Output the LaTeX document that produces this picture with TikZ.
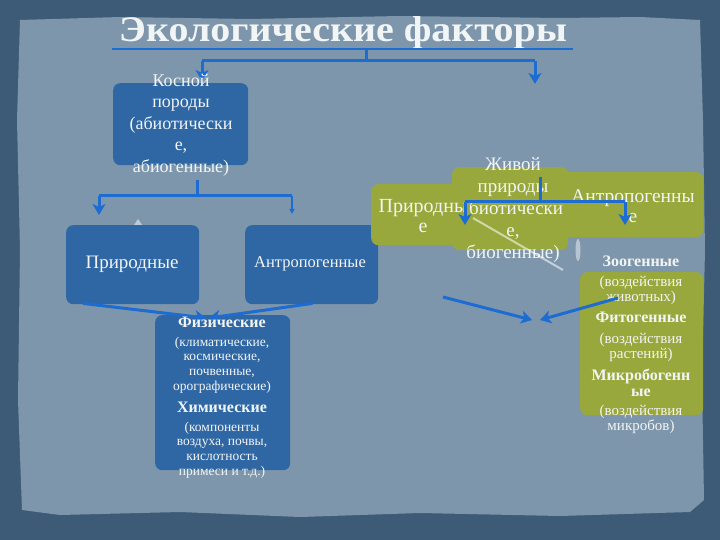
\documentclass[tikz,border=0pt]{standalone}
\usepackage{fontspec}
\setmainfont{Liberation Serif}
\usetikzlibrary{arrows.meta}
\definecolor{framec}{HTML}{3D5B77}
\definecolor{panelc}{HTML}{7E96AC}
\definecolor{boxblue}{HTML}{2F67A5}
\definecolor{boxgreen}{HTML}{99A83C}
\definecolor{arrblue}{HTML}{1C6CD2}
\definecolor{txtc}{HTML}{F2F5F5}
\tikzset{
  bbox/.style={fill=boxblue, rounded corners=7pt, draw=none, inner sep=0pt, anchor=north west},
  gbox/.style={fill=boxgreen, rounded corners=7pt, draw=none, inner sep=0pt, anchor=north west},
  conn/.style={draw=arrblue, line width=3pt},
  arrw/.style={conn, -{Stealth[length=11pt,width=13pt,inset=3pt]}},
  thinarrw/.style={draw=arrblue, line width=1.2pt, -{Triangle[length=5pt,width=5pt]}},
  lbl/.style={text=txtc, align=center, inner sep=0pt},
  faint/.style={draw=white, draw opacity=0.55, line width=2pt},
}
\begin{document}
\begin{tikzpicture}[x=1pt,y=-1pt]
\useasboundingbox (0,0) rectangle (720,540);
\fill[framec] (0,0) rectangle (720,540);
\fill[panelc] (20,20) -- (120,17) -- (250,19) -- (400,16) -- (560,18) -- (640,17) -- (700,20)
  -- (703,120) -- (705,250) -- (702,380) -- (704,500)
  -- (690,512) -- (560,516) -- (420,513) -- (300,517) -- (180,512) -- (60,515) -- (22,510)
  -- (18,400) -- (20,250) -- (17,120) -- cycle;

% title
\node[lbl, font=\fontsize{36}{40}\selectfont\bfseries, anchor=base, text=txtc] (title) at (343,42) {\scalebox{1.11}[1]{Экологические факторы}};
\coordinate (ul1) at (112,49); \coordinate (ul2) at (573,49);
\coordinate (t0) at (366,49); \coordinate (t1) at (366,61);
\coordinate (tl) at (202,61); \coordinate (tr) at (535,61);
\coordinate (tla) at (202,81); \coordinate (tra) at (535,84);
\draw[conn, line width=2.5pt] (ul1) -- (ul2);
\draw[conn] (t0) -- (t1);
\draw[conn] (tl) -- (tr);
\draw[arrw] (tl) -- (tla);
\draw[arrw] (tr) -- (tra);

% left branch
\node[bbox, minimum width=135pt, minimum height=82pt] (kbox) at (113,83) {};
\node[lbl, font=\fontsize{18}{21.5}\selectfont] (ktxt) at (181,125) {Косной\\породы\\(абиотически\\е,\\абиогенные)};
\coordinate (k0) at (197,180); \coordinate (k1) at (197,196);
\coordinate (kl) at (99,196); \coordinate (kr) at (292,196);
\coordinate (kla) at (99,215); \coordinate (kra) at (292,214);
\draw[conn] (k0) -- (k1);
\draw[conn] (kl) -- (kr);
\draw[arrw] (kl) -- (kla);
\draw[thinarrw] (kr) -- (kra);
\fill[white, opacity=0.5] (134,225) -- (138,219) -- (142,225) -- cycle;

\node[bbox, minimum width=133pt, minimum height=79pt] (pbox) at (66,225) {};
\node[lbl, font=\fontsize{19}{22}\selectfont] (ptxt) at (132,264) {Природные};
\node[bbox, minimum width=133pt, minimum height=79pt] (abox) at (245,225) {};
\node[lbl, font=\fontsize{16.5}{20}\selectfont] (atxt) at (310,264) {Антропогенные};

\node[bbox, minimum width=135pt, minimum height=155pt] (fbox) at (155,315) {};
\draw[arrw] ([xshift=17pt,yshift=1pt]pbox.south west) -- (206,318);
\draw[arrw] ([xshift=-66pt,yshift=1pt]abox.south east) -- (209,318);
\node[lbl, font=\fontsize{16}{18}\selectfont\bfseries] (f1) at (222,322) {Физические};
\node[lbl, font=\fontsize{13.5}{14.7}\selectfont] (f2) at (222,365) {(климатические,\\космические,\\почвенные,\\орографические)};
\node[lbl, font=\fontsize{16}{18}\selectfont\bfseries] (f3) at (222,407) {Химические};
\node[lbl, font=\fontsize{13.5}{14.7}\selectfont] (f4) at (222,450) {(компоненты\\воздуха, почвы,\\кислотность\\примеси и т.д.)};

% right branch
\node[gbox, minimum width=99pt, minimum height=61pt] (gl) at (371,184) {};
\node[gbox, minimum width=116pt, minimum height=83pt] (gm) at (452,167) {};
\node[gbox, minimum width=155pt, minimum height=65pt] (gr) at (548,172) {};
\node[lbl, font=\fontsize{19}{22}\selectfont] (mtxt) at (513,210) {Живой\\природы\\(биотически\\е,\\биогенные)};
\node[lbl, font=\fontsize{20}{20}\selectfont] (ltxt) at (423,216) {Природны\\е};
\node[lbl, font=\fontsize{19.5}{20}\selectfont] (rtxt) at (633,206) {Антропогенны\\е};
\coordinate (g0) at (540,177); \coordinate (g1) at (540,202);
\coordinate (gll) at (465,202); \coordinate (grr) at (625,202);
\coordinate (glla) at (465,225); \coordinate (grra) at (625,225);
\draw[conn] (g0) -- (g1);
\draw[conn] (gll) -- (grr);
\draw[arrw] (gll) -- (glla);
\draw[arrw] (grr) -- (grra);
\draw[faint] (473,218) -- (563,270);
\fill[white, opacity=0.45] (578,250) ellipse [x radius=2.5pt, y radius=11pt];

\node[gbox, minimum width=123pt, minimum height=143pt] (zbox) at (580,272) {};
\node[lbl, font=\fontsize{16}{18}\selectfont\bfseries] (z1) at (641,261) {Зоогенные};
\node[lbl, font=\fontsize{15}{15}\selectfont] (z2) at (641,290) {(воздействия\\животных)};
\node[lbl, font=\fontsize{16}{18}\selectfont\bfseries] (z3) at (641,317) {Фитогенные};
\node[lbl, font=\fontsize{15}{15}\selectfont] (z4) at (641,347) {(воздействия\\растений)};
\node[lbl, font=\fontsize{16}{15.5}\selectfont\bfseries] (z5) at (641,383) {Микробогенн\\ые};
\node[lbl, font=\fontsize{15}{15}\selectfont] (z6) at (641,419) {(воздействия\\микробов)};
\coordinate (bl) at (443,297); \coordinate (bla) at (532,320);
\coordinate (brs) at (618,298); \coordinate (bra) at (540,320);
\draw[arrw] (bl) -- (bla);
\draw[arrw] (brs) -- (bra);
\end{tikzpicture}
\end{document}
